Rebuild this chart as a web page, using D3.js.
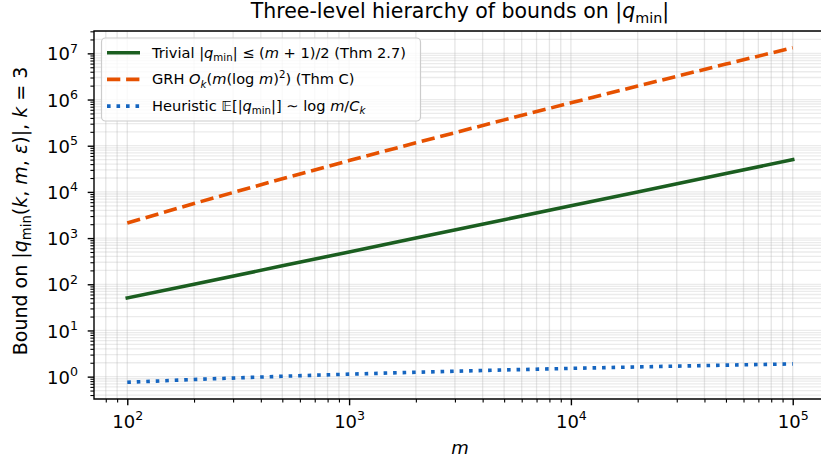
<!DOCTYPE html>
<html><head><meta charset="utf-8">
<script src="https://cdn.jsdelivr.net/npm/d3@7"></script>
<style>
body{margin:0;background:#fff}
svg{display:block;font-family:"DejaVu Sans",sans-serif}
</style>
</head><body>
<svg id="c" width="821" height="466"></svg>
<script>
// ---- data ----
const mValues        = [100, 200, 500, 1000, 2000, 5000, 10000, 20000, 50000, 100000];
const trivialBound   = [50.5, 100.5, 250.5, 500.5, 1000.5, 2500.5, 5000.5, 10000.5, 25000.5, 50000.5];
const grhBound       = [2121, 5614, 19310, 47720, 115500, 362700, 848300, 1962000, 5853000, 13250000];
const heuristicBound = [0.755, 0.869, 1.019, 1.132, 1.246, 1.396, 1.510, 1.624, 1.774, 1.887];
const xTickExponents = [2, 3, 4, 5];
const yTickExponents = [0, 1, 2, 3, 4, 5, 6, 7];
const seriesColors   = ["#1b5e20", "#e65100", "#1565c0"];

// rich-text segments: t = text, i = italic, sub / sup = script
const titleText = [{t:"Three-level hierarchy of bounds on |"},{t:"q",i:1},{t:"min",sub:1},{t:"|"}];
const xLabelText = [{t:"m",i:1}];
const yLabelText = [{t:"Bound on |"},{t:"q",i:1},{t:"min",sub:1},{t:"("},{t:"k",i:1},{t:", "},{t:"m",i:1},{t:", "},{t:"ε",i:1},{t:")|, "},{t:"k",i:1},{t:" = 3"}];
const legendTexts = [
  [{t:"Trivial |"},{t:"q",i:1},{t:"min",sub:1},{t:"| ≤ ("},{t:"m",i:1},{t:" + 1)/2 (Thm 2.7)"}],
  [{t:"GRH "},{t:"O",i:1},{t:"k",i:1,sub:1},{t:"("},{t:"m",i:1},{t:"(log "},{t:"m",i:1},{t:")"},{t:"2",sup:1},{t:") (Thm C)"}],
  [{t:"Heuristic 𝔼[|"},{t:"q",i:1},{t:"min",sub:1},{t:"|] ∼ log "},{t:"m",i:1},{t:"/"},{t:"C",i:1},{t:"k",i:1,sub:1}]
];
const seriesValues = [trivialBound, grhBound, heuristicBound];
const seriesDash = [null, "13.3,5.8", "3.6,5.9"];

// ---- layout ----
const svg = d3.select("#c");
const L = 94, R = 826, T = 31, B = 399;
const x = d3.scaleLog().domain([Math.pow(10, 1.85), Math.pow(10, 5.15)]).range([L, R]);
const y = d3.scaleLog().domain([Math.pow(10, -0.484), Math.pow(10, 7.484)]).range([B, T]);

function minorTicks(scale) {
  const [a, b] = scale.domain(), out = [];
  for (let e = Math.floor(Math.log10(a)); e <= Math.ceil(Math.log10(b)); e++)
    for (let k = 2; k <= 9; k++) { const v = k * Math.pow(10, e); if (v >= a && v <= b) out.push(v); }
  return out;
}
const xMajor = xTickExponents.map(e => Math.pow(10, e));
const yMajor = yTickExponents.map(e => Math.pow(10, e));
const xMinor = minorTicks(x), yMinor = minorTicks(y);

function rich(sel, segs, size) {
  let shift = 0;
  segs.forEach(s => {
    const fs = (s.sub || s.sup) ? size * 0.7 : size;
    const target = s.sub ? size * 0.22 : s.sup ? -size * 0.42 : 0;
    const ts = sel.append("tspan").text(s.t).attr("font-size", fs)
      .attr("dy", (target - shift).toFixed(2));
    if (s.i) ts.attr("font-style", "italic");
    shift = target;
  });
  return sel;
}

// ---- grid ----
const grid = svg.append("g");
grid.selectAll("line.gx").data(xMinor.concat(xMajor)).enter().append("line")
  .attr("x1", d => x(d)).attr("x2", d => x(d)).attr("y1", T).attr("y2", B)
  .attr("stroke", "#b0b0b0").attr("stroke-opacity", 0.33).attr("stroke-width", 1.3);
grid.selectAll("line.gy").data(yMinor.concat(yMajor)).enter().append("line")
  .attr("y1", d => y(d)).attr("y2", d => y(d)).attr("x1", L).attr("x2", R)
  .attr("stroke", "#b0b0b0").attr("stroke-opacity", 0.25).attr("stroke-width", 1.3);

// ---- series ----
const line = d3.line().x(d => x(d[0])).y(d => y(d[1]));
seriesValues.forEach((vals, i) => {
  const p = svg.append("path").datum(mValues.map((m, j) => [m, vals[j]]))
    .attr("d", line).attr("fill", "none").attr("stroke", seriesColors[i])
    .attr("stroke-width", 3.6);
  if (seriesDash[i]) p.attr("stroke-dasharray", seriesDash[i]).attr("stroke-linecap", "butt");
  else p.attr("stroke-linecap", "square");
});

// ---- axes ----
function strip(g) { g.select(".domain").remove(); g.selectAll("text").remove(); }
const gxm = svg.append("g").attr("transform", `translate(0,${B})`)
  .call(d3.axisBottom(x).tickValues(xMinor).tickSize(3.6).tickFormat("")).call(strip);
gxm.selectAll("line").attr("stroke", "#000").attr("stroke-width", 1.1);
const gxM = svg.append("g").attr("transform", `translate(0,${B})`)
  .call(d3.axisBottom(x).tickValues(xMajor).tickSize(6.3).tickFormat("")).call(strip);
gxM.selectAll("line").attr("stroke", "#000").attr("stroke-width", 1.4);
gxM.selectAll(".tick").each(function(d, i) {
  rich(d3.select(this).append("text").attr("y", 29).attr("text-anchor", "middle")
    .attr("fill", "#000").attr("font-family", "DejaVu Sans"),
    [{t:"10"},{t:String(xTickExponents[i]),sup:1}], 18);
});
const gym = svg.append("g").attr("transform", `translate(${L},0)`)
  .call(d3.axisLeft(y).tickValues(yMinor).tickSize(3.6).tickFormat("")).call(strip);
gym.selectAll("line").attr("stroke", "#000").attr("stroke-width", 1.1);
const gyM = svg.append("g").attr("transform", `translate(${L},0)`)
  .call(d3.axisLeft(y).tickValues(yMajor).tickSize(6.3).tickFormat("")).call(strip);
gyM.selectAll("line").attr("stroke", "#000").attr("stroke-width", 1.4);
gyM.selectAll(".tick").each(function(d, i) {
  rich(d3.select(this).append("text").attr("x", -16).attr("y", 6.6).attr("text-anchor", "end")
    .attr("fill", "#000").attr("font-family", "DejaVu Sans"),
    [{t:"10"},{t:String(yTickExponents[i]),sup:1}], 18);
});

// spines
svg.append("path").attr("d", `M${L},${B}H${R}M${L},${B}V${T}H${R}`)
  .attr("fill", "none").attr("stroke", "#000").attr("stroke-width", 1.4).attr("stroke-linecap", "square");

// ---- labels ----
rich(svg.append("text").attr("x", 460).attr("y", 18).attr("text-anchor", "middle").attr("fill", "#000"),
  titleText, 20.5);
rich(svg.append("text").attr("x", 460).attr("y", 454).attr("text-anchor", "middle").attr("fill", "#000"),
  xLabelText, 18);
rich(svg.append("text").attr("transform", "translate(27,211) rotate(-90)").attr("text-anchor", "middle").attr("fill", "#000"),
  yLabelText, 19);

// ---- legend ----
const lg = svg.append("g");
lg.append("rect").attr("x", 101.5).attr("y", 38).attr("width", 319).attr("height", 83).attr("rx", 4)
  .attr("fill", "#fff").attr("fill-opacity", 0.8).attr("stroke", "#cccccc").attr("stroke-width", 1.2);
legendTexts.forEach((segs, i) => {
  const cy = 52.7 + i * 26.7;
  const h = lg.append("line").attr("x1", 107).attr("x2", 140).attr("y1", cy).attr("y2", cy)
    .attr("stroke", seriesColors[i]).attr("stroke-width", 3.6);
  if (seriesDash[i]) h.attr("stroke-dasharray", seriesDash[i]);
  rich(lg.append("text").attr("x", 152).attr("y", cy + 5).attr("fill", "#000"), segs, 14.6);
});
</script>
</body></html>
